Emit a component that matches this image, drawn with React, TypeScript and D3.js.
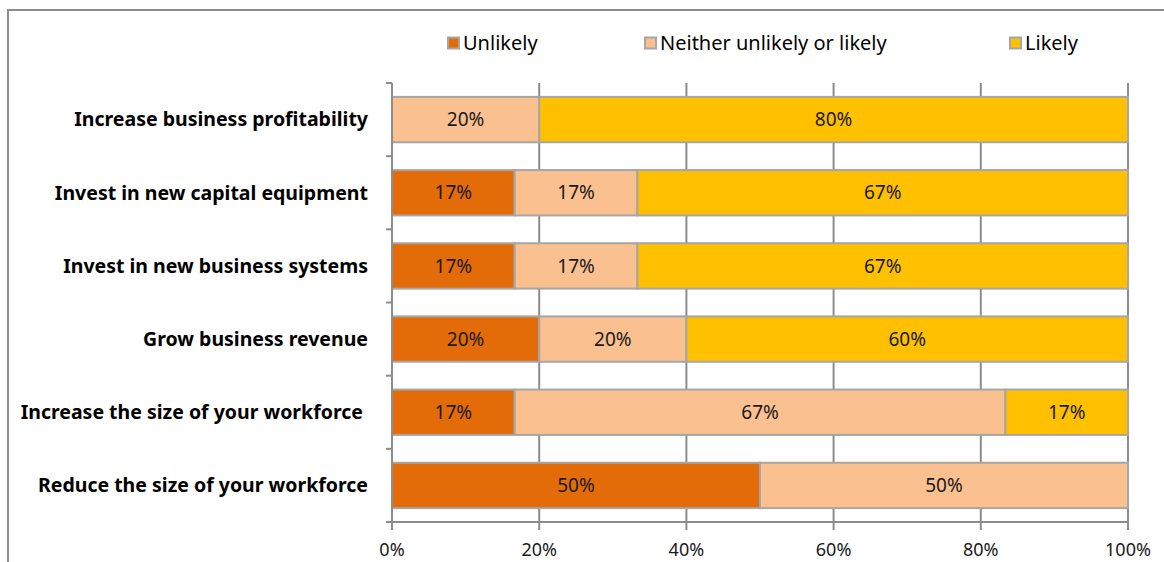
import React, { useEffect, useRef } from "react";
import * as d3 from "d3";

const categories = [
  "Increase business profitability",
  "Invest in new capital equipment",
  "Invest in new business systems",
  "Grow business revenue",
  "Increase the size of your workforce ",
  "Reduce the size of your workforce",
];
const seriesNames = ["Unlikely", "Neither unlikely or likely", "Likely"];
const unlikely = [0, 16.67, 16.67, 20, 16.67, 50];
const neither = [20, 16.67, 16.67, 20, 66.67, 50];
const likely = [80, 66.67, 66.67, 60, 16.67, 0];
const xTicks = [0, 20, 40, 60, 80, 100];
const colors = ["#E36C09", "#FAC090", "#FFC000"];

const W = 1164;
const H = 562;
const FONT = "'Noto Sans', sans-serif";

function App() {
  const svgRef: any = useRef(null);

  useEffect(() => {
    draw();
  }, []);

  const draw = () => {
    const root = d3.select(svgRef.current);
    root.selectAll("*").remove();

    const left = 392;
    const right = 1128;
    const top = 83;
    const bottom = 522;

    // outer chart border (runs off the page right and bottom)
    root
      .append("rect")
      .attr("x", 8)
      .attr("y", 10)
      .attr("width", 1300)
      .attr("height", 700)
      .attr("fill", "none")
      .attr("stroke", "#8c8c8c")
      .attr("stroke-width", 2);

    const x = d3.scaleLinear().domain([0, 100]).range([left, right]);
    const y = d3
      .scaleBand()
      .domain(categories)
      .range([top, bottom])
      .paddingInner(0.38)
      .paddingOuter(0.19);

    const rows = categories.map((c, i) => ({
      cat: c,
      vals: [unlikely[i], neither[i], likely[i]],
    }));

    const svg = root.append("g");

    // vertical gridlines
    svg
      .append("g")
      .selectAll("line")
      .data(xTicks.slice(1))
      .join("line")
      .attr("x1", (d) => x(d))
      .attr("x2", (d) => x(d))
      .attr("y1", top)
      .attr("y2", bottom)
      .attr("stroke", "#8c8c8c")
      .attr("stroke-width", 2);

    // bars
    rows.forEach((r) => {
      let acc = 0;
      r.vals.forEach((v, k) => {
        const x0 = acc;
        acc += v;
        if (v <= 0) return;
        svg
          .append("rect")
          .attr("x", x(x0))
          .attr("y", y(r.cat)!)
          .attr("width", x(x0 + v) - x(x0))
          .attr("height", y.bandwidth())
          .attr("fill", colors[k])
          .attr("stroke", "#a6a6a6")
          .attr("stroke-width", 2);
        svg
          .append("text")
          .attr("x", x(x0 + v / 2))
          .attr("y", y(r.cat)! + y.bandwidth() / 2)
          .attr("dy", "0.35em")
          .attr("text-anchor", "middle")
          .attr("font-family", FONT)
          .attr("font-size", 19)
          .attr("fill", "#1a1a1a")
          .text(Math.round(v) + "%");
      });
    });

    // category axis
    const step = (bottom - top) / categories.length;
    const bounds = d3.range(categories.length + 1).map((i) => top + i * step);
    svg
      .append("line")
      .attr("x1", left)
      .attr("x2", left)
      .attr("y1", top)
      .attr("y2", bottom)
      .attr("stroke", "#8c8c8c")
      .attr("stroke-width", 2);
    svg
      .append("g")
      .selectAll("line")
      .data(bounds)
      .join("line")
      .attr("x1", left - 6)
      .attr("x2", left)
      .attr("y1", (d) => d)
      .attr("y2", (d) => d)
      .attr("stroke", "#8c8c8c")
      .attr("stroke-width", 2);
    svg
      .append("g")
      .selectAll("text")
      .data(categories)
      .join("text")
      .attr("x", 368)
      .attr("y", (d) => y(d)! + y.bandwidth() / 2)
      .attr("dy", "0.35em")
      .attr("text-anchor", "end")
      .attr("font-family", FONT)
      .attr("font-size", 19.5)
      .attr("font-weight", "bold")
      .attr("fill", "#000")
      .style("white-space", "pre")
      .text((d) => d);

    // value axis
    svg
      .append("line")
      .attr("x1", left)
      .attr("x2", right)
      .attr("y1", bottom)
      .attr("y2", bottom)
      .attr("stroke", "#8c8c8c")
      .attr("stroke-width", 2);
    svg
      .append("g")
      .selectAll("line")
      .data(xTicks)
      .join("line")
      .attr("x1", (d) => x(d))
      .attr("x2", (d) => x(d))
      .attr("y1", bottom)
      .attr("y2", bottom + 8)
      .attr("stroke", "#8c8c8c")
      .attr("stroke-width", 2);
    svg
      .append("g")
      .selectAll("text")
      .data(xTicks)
      .join("text")
      .attr("x", (d) => x(d))
      .attr("y", 556)
      .attr("text-anchor", "middle")
      .attr("font-family", FONT)
      .attr("font-size", 18)
      .attr("fill", "#1a1a1a")
      .text((d) => d + "%");

    // legend
    const legendX = [448, 645, 1010];
    const lg = svg
      .append("g")
      .selectAll("g")
      .data(seriesNames)
      .join("g")
      .attr("transform", (d, i) => `translate(${legendX[i]}, 43)`);
    lg.append("rect")
      .attr("x", 0)
      .attr("y", -5.5)
      .attr("width", 11)
      .attr("height", 11)
      .attr("fill", (d, i) => colors[i])
      .attr("stroke", "#a6a6a6")
      .attr("stroke-width", 2);
    lg.append("text")
      .attr("x", 15)
      .attr("y", 0)
      .attr("dy", "0.35em")
      .attr("font-family", FONT)
      .attr("font-size", 20)
      .attr("fill", "#000")
      .text((d) => d);
  };

  return (
    <svg
      ref={svgRef}
      width={W}
      height={H}
      style={{ position: "absolute", left: 0, top: 0, background: "#fff" }}
    />
  );
}

export default App;
